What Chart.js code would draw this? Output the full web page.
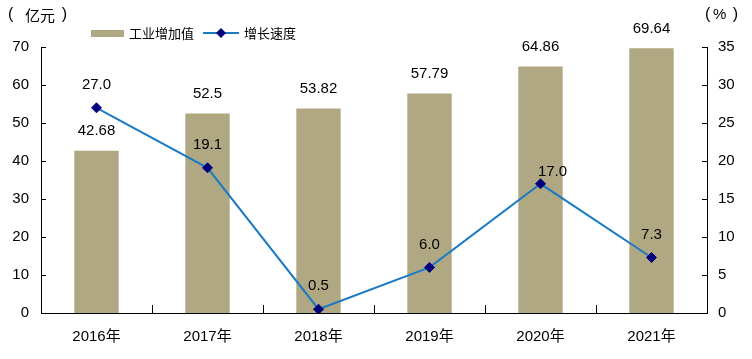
<!DOCTYPE html>
<html><head><meta charset="utf-8">
<script src="https://cdn.jsdelivr.net/npm/chart.js@4/dist/chart.umd.min.js"></script>
<style>html,body{margin:0;padding:0;background:#fff}#wrap{width:752px;height:359px}</style>
</head><body><div id="wrap"><canvas id="c" width="752" height="359"></canvas></div>
<script>
const categories = ['2016年','2017年','2018年','2019年','2020年','2021年'];
const industryValue = [42.68, 52.5, 53.82, 57.79, 64.86, 69.64];
const growthRate = [27.0, 19.1, 0.5, 6.0, 17.0, 7.3];
const valueLabels = ['42.68','52.5','53.82','57.79','64.86','69.64'];
const rateLabels = ['27.0','19.1','0.5','6.0','17.0','7.3'];
const leftTicks = [0,10,20,30,40,50,60,70];
const rightTicks = [0,5,10,15,20,25,30,35];

const NUM_FONT = '15px "Liberation Sans", Arial, sans-serif';
const CJK = '"Noto Sans CJK SC", sans-serif';

const overlay = {
  id: 'overlay',
  afterDraw(chart) {
    const ctx = chart.ctx, a = chart.chartArea;
    const x = chart.scales.x, y = chart.scales.y, y1 = chart.scales.y1;
    ctx.save();
    ctx.strokeStyle = '#000'; ctx.lineWidth = 1;
    // inward ticks
    leftTicks.forEach(v => { const p = Math.round(y.getPixelForValue(v)) + 0.5; ctx.beginPath(); ctx.moveTo(a.left, p); ctx.lineTo(a.left + 5, p); ctx.stroke(); });
    rightTicks.forEach(v => { const p = Math.round(y1.getPixelForValue(v)) + 0.5; ctx.beginPath(); ctx.moveTo(a.right, p); ctx.lineTo(a.right - 5, p); ctx.stroke(); });
    for (let i = 1; i < categories.length; i++) {
      const p = Math.round((x.getPixelForValue(i - 1) + x.getPixelForValue(i)) / 2) + 0.5;
      ctx.beginPath(); ctx.moveTo(p, a.bottom); ctx.lineTo(p, a.bottom - 8); ctx.stroke();
    }
    // data labels
    ctx.fillStyle = '#000'; ctx.font = NUM_FONT; ctx.textAlign = 'center'; ctx.textBaseline = 'middle';
    chart.getDatasetMeta(0).data.forEach((b, i) => { ctx.fillText(valueLabels[i], b.x, b.y - 20); });
    chart.getDatasetMeta(1).data.forEach((pt, i) => {
      const dx = i === 4 ? 12 : 0, dy = i === 4 ? 12 : 23;
      ctx.fillText(rateLabels[i], pt.x + dx, pt.y - dy);
    });
    // unit labels
    ctx.textAlign = 'left';
    ctx.font = '16px "Liberation Sans", sans-serif';
    ctx.fillText('(', 8, 15);
    ctx.font = '15px ' + CJK;
    ctx.fillText('亿元', 25, 15);
    ctx.font = '16px "Liberation Sans", sans-serif';
    ctx.textAlign = 'right';
    ctx.fillText(')', 67, 15);
    ctx.textAlign = 'left';
    ctx.fillText('(', 705, 15);
    ctx.font = '15px "Liberation Sans", sans-serif';
    ctx.fillText('%', 713, 15);
    ctx.font = '16px "Liberation Sans", sans-serif';
    ctx.textAlign = 'right';
    ctx.fillText(')', 738, 15);
    ctx.textAlign = 'left';
    // legend
    const ly = 33;
    ctx.fillStyle = chart.data.datasets[0].backgroundColor;
    ctx.fillRect(91, ly - 3, 33, 7);
    ctx.fillStyle = '#000'; ctx.font = '13px ' + CJK; ctx.textBaseline = 'middle';
    ctx.fillText('工业增加值', 129, ly);
    ctx.strokeStyle = chart.data.datasets[1].borderColor; ctx.lineWidth = 2;
    ctx.beginPath(); ctx.moveTo(203, ly); ctx.lineTo(239, ly); ctx.stroke();
    ctx.fillStyle = '#00007F';
    ctx.beginPath(); ctx.moveTo(221, ly - 5); ctx.lineTo(226, ly); ctx.lineTo(221, ly + 5); ctx.lineTo(216, ly); ctx.closePath(); ctx.fill();
    ctx.fillStyle = '#000';
    ctx.fillText('增长速度', 244, ly);
    ctx.restore();
  }
};

new Chart(document.getElementById('c'), {
  data: {
    labels: categories,
    datasets: [
      { type: 'bar', label: '工业增加值', data: industryValue, yAxisID: 'y', backgroundColor: '#B0A882', barPercentage: 0.4, categoryPercentage: 1, order: 2 },
      { type: 'line', label: '增长速度', data: growthRate, yAxisID: 'y1', borderColor: '#1A7BC4', borderWidth: 2, pointStyle: 'rectRot', pointRadius: 5, pointBackgroundColor: '#00007F', pointBorderColor: '#00007F', pointBorderWidth: 1, tension: 0, order: 1 }
    ]
  },
  options: {
    responsive: false, animation: false,
    layout: { padding: { top: 47, left: 0, right: 0, bottom: 0 } },
    plugins: { legend: { display: false }, tooltip: { enabled: false } },
    scales: {
      x: {
        grid: { display: false, drawTicks: false },
        border: { display: true, color: '#000', width: 1 },
        ticks: { color: '#000', font: { family: '"Liberation Sans Narrow", "Liberation Sans", ' + CJK, size: 15 }, padding: 15 },
        afterFit(s) { s.height = 46; }
      },
      y: {
        position: 'left', min: 0, max: 70,
        afterBuildTicks(s) { s.ticks = leftTicks.map(v => ({ value: v })); },
        grid: { display: false, drawTicks: false },
        border: { display: true, color: '#000', width: 1 },
        ticks: { color: '#000', font: { family: '"Liberation Sans", Arial', size: 15 }, padding: 12 },
        afterFit(s) { s.width = 41; }
      },
      y1: {
        position: 'right', min: 0, max: 35,
        afterBuildTicks(s) { s.ticks = rightTicks.map(v => ({ value: v })); },
        grid: { display: false, drawTicks: false },
        border: { display: true, color: '#000', width: 1 },
        ticks: { color: '#000', font: { family: '"Liberation Sans", Arial', size: 15 }, padding: 11 },
        afterFit(s) { s.width = 45; }
      }
    }
  },
  plugins: [overlay]
});
</script></body></html>
